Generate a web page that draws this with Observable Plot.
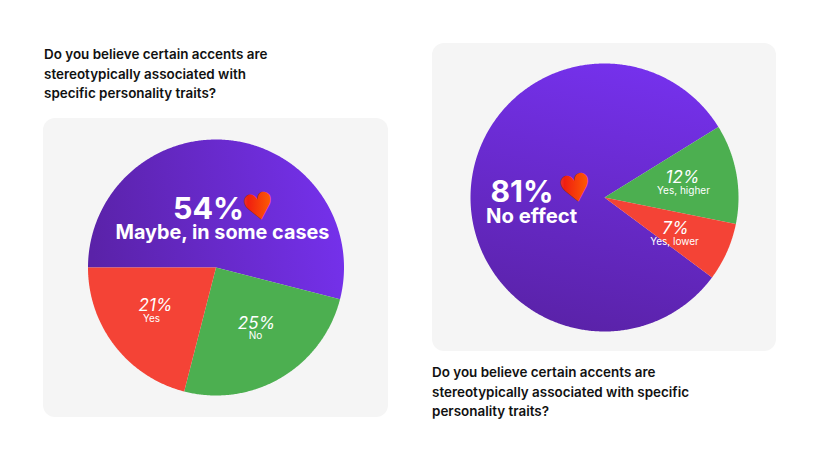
<!DOCTYPE html>
<html>
<head>
<meta charset="utf-8">
<style>
html,body{margin:0;padding:0;background:#fff;overflow:hidden}
svg{display:block}
</style>
<script src="https://cdn.jsdelivr.net/npm/d3@7"></script>
<script src="https://cdn.jsdelivr.net/npm/@observablehq/plot@0.6"></script>
</head>
<body>
<div id="chart"></div>
<script>
const leftNames = ["Maybe, in some cases", "No", "Yes"];
const leftValues = [54, 25, 21];
const rightNames = ["No effect", "Yes, higher", "Yes, lower"];
const rightValues = [81, 12, 7];
const titleLeft = ["Do you believe certain accents are", "stereotypically associated with", "specific personality traits?"];
const titleRight = ["Do you believe certain accents are", "stereotypically associated with specific", "personality traits?"];

const PURPLE_L = "url(#purpleL)", PURPLE_R = "url(#purpleR)", GREEN = "#4caf50", RED = "#f44336";
const FONT = "Inter";

// Turn shares into closed wedge outlines (angle clockwise from north, degrees)
function wedges(names, values, start, cx, cy, r, fills) {
  const total = d3.sum(values);
  let a = start;
  const out = [];
  names.forEach((name, i) => {
    const span = values[i] / total * 360;
    const n = Math.ceil(span * 2);
    const pts = [{name, x: cx, y: cy, fill: fills[i]}];
    for (let k = 0; k <= n; k++) {
      const t = (a + span * k / n) * Math.PI / 180;
      pts.push({name, x: cx + r * Math.sin(t), y: cy - r * Math.cos(t), fill: fills[i]});
    }
    pts.push({name, x: cx, y: cy, fill: fills[i]});
    out.push(pts);
    a += span;
  });
  return out;
}

const leftW = wedges(leftNames, leftValues, 270, 215.5, 267, 128, [PURPLE_L, GREEN, RED]);
const rightW = wedges(rightNames, rightValues, 126.6, 604, 197, 134, [PURPLE_R, GREEN, RED]);

const defs = () => {
  const s = d3.create("svg:defs");
  const grad = (id, x1, y1, x2, y2, stops) => {
    const g = s.append("linearGradient").attr("id", id)
      .attr("x1", x1).attr("y1", y1).attr("x2", x2).attr("y2", y2);
    stops.forEach(([o, c]) => g.append("stop").attr("offset", o).attr("stop-color", c));
  };
  grad("purpleL", 0, 0.55, 1, 0.45, [[0, "#5a22a8"], [1, "#7531ec"]]);
  grad("purpleR", 0.6, 0, 0.4, 1, [[0, "#7531ec"], [1, "#5a22a8"]]);
  grad("heart", 0, 0.3, 1, 0.6, [[0, "#e8404f"], [0.2, "#f01e10"], [1, "#ff6a00"]]);
  return s.node();
};

const wedgeMarks = w => w.map(pts => Plot.line(pts, {x: "x", y: "y", fill: pts[0].fill, stroke: "none", curve: "linear"}));

const T = (text, x, y, size, weight, extra = {}) => Plot.text([text], {
  x: [x], y: [y], text: [text], lineAnchor: "bottom",
  fontFamily: FONT, fontSize: size, fontWeight: weight, fill: "#fff", ...extra
});

const pct = v => v + "%";
const big = {textAnchor: "start"};
const small = {textAnchor: "middle"};
const ital = {textAnchor: "middle", fontStyle: "italic"};
const heart = {textAnchor: "middle", fontFamily: "DejaVu Sans", fill: "url(#heart)", rotate: -12};

const chart = Plot.plot({
  width: 820, height: 462,
  marginTop: 0, marginRight: 0, marginBottom: 0, marginLeft: 0,
  x: {domain: [0, 820], range: [0, 820], axis: null},
  y: {domain: [0, 462], range: [0, 462], axis: null},
  style: {background: "#fff"},
  marks: [
    defs,
    Plot.rect([0], {x1: [43], x2: [388], y1: [118], y2: [417], fill: "#f5f5f5", rx: 12}),
    Plot.rect([0], {x1: [432], x2: [776], y1: [43], y2: [351], fill: "#f5f5f5", rx: 12}),
    ...wedgeMarks(leftW),
    ...wedgeMarks(rightW),
    ...titleLeft.map((t, i) => T(t, 43.5, [58, 78, 97][i], 13.45, 600, {fill: "#111", textAnchor: "start"})),
    ...titleRight.map((t, i) => T(t, 431.5, [376, 396, 415][i], 13.45, 600, {fill: "#111", textAnchor: "start"})),
    T(pct(leftValues[0]), 172.5, 218, 30.5, 700, big),
    T(leftNames[0], 115, 238, 19.8, 700, big),
    T(pct(rightValues[0]), 490, 201, 30, 700, big),
    T(rightNames[0], 485.5, 222, 20.3, 700, big),
    T("♥", 261, 219, 37, 400, heart),
    T("♥", 578, 201, 38, 400, heart),
    T(pct(leftValues[2]), 155, 310, 17, 400, ital),
    T(leftNames[2], 151, 321, 10, 400, small),
    T(pct(leftValues[1]), 256, 328, 17, 400, ital),
    T(leftNames[1], 255, 338, 10, 400, small),
    T(pct(rightValues[1]), 682, 182, 17, 400, ital),
    T(rightNames[1], 683, 193, 10, 400, small),
    T(pct(rightValues[2]), 675, 233, 17, 400, ital),
    T(rightNames[2], 674, 244, 10, 400, small)
  ]
});
document.getElementById("chart").append(chart);
</script>
</body>
</html>
